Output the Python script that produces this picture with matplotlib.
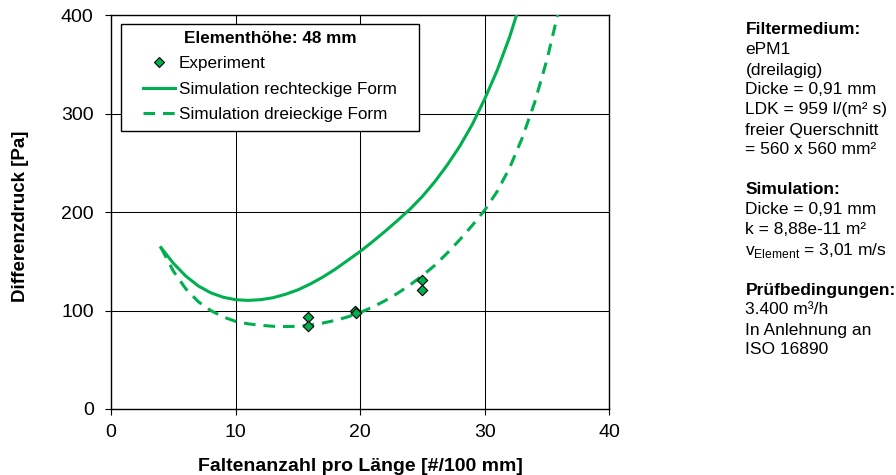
import matplotlib.pyplot as plt
from matplotlib.lines import Line2D
from matplotlib.patches import Rectangle

plt.rcParams['font.family'] = ['Liberation Sans', 'DejaVu Sans']
plt.rcParams['mathtext.fontset'] = 'custom'
plt.rcParams['mathtext.rm'] = 'Liberation Sans'

green = '#00b050'

# experiment
exp_x = [15.8, 15.8, 19.6, 19.7, 25.0, 25.0]
exp_y = [93, 84, 100, 98, 131, 121]

# simulation, rectangular fold
rect_x = [4, 5, 6, 7, 8, 9, 10, 11, 12, 13, 14, 15, 16, 17, 18, 19, 20, 21,
          22, 23, 24, 25, 26, 27, 28, 29, 30, 31, 32, 33]
rect_y = [164, 148, 135, 125, 118, 113.5, 111, 110.3, 111, 113, 116.5, 121,
          127, 134, 142, 151, 160, 170, 180.5, 191.5, 203, 216, 231, 248, 267,
          289, 315, 344, 378, 418]

# simulation, triangular fold
tri_x = [4, 5, 6, 7, 8, 9, 10, 11, 12, 13, 14, 15, 16, 17, 18, 19, 20, 21,
         22, 23, 24, 25, 26, 27, 28, 29, 30, 31, 32, 33, 34, 35, 36]
tri_y = [164, 140, 122, 109, 100, 93.5, 89, 86.5, 85, 84, 83.7, 84, 85.3,
         87.3, 90, 93.5, 98, 103.5, 110, 117.5, 126, 135.5, 146, 158.5, 172,
         186.5, 202, 221, 245, 275, 311, 355, 408]

info_lines = [
    ('Filtermedium:', True),
    ('ePM1', False),
    ('(dreilagig)', False),
    ('Dicke = 0,91 mm', False),
    ('LDK = 959 l/(m² s)', False),
    ('freier Querschnitt', False),
    ('= 560 x 560 mm²', False),
    ('', False),
    ('Simulation:', True),
    ('Dicke = 0,91 mm', False),
    ('k = 8,88e-11 m²', False),
    (r'v$_\mathregular{Element}$ = 3,01 m/s', False),
    ('', False),
    ('Prüfbedingungen:', True),
    ('3.400 m³/h', False),
    ('In Anlehnung an', False),
    ('ISO 16890', False),
]

fig = plt.figure(figsize=(8.96, 4.75), dpi=100)
ax = fig.add_axes([0.124, 0.139, 0.556, 0.829])

ax.plot(rect_x, rect_y, color=green, lw=2.2, zorder=3)
ax.plot(tri_x, tri_y, color=green, lw=2.2, dashes=(3.8, 2.6), zorder=3)
ax.scatter(exp_x, exp_y, marker='D', s=28, color=green, edgecolor='black',
           linewidth=0.8, zorder=4)

ax.set_xlim(0, 40)
ax.set_ylim(0, 400)
ax.set_xticks([0, 10, 20, 30, 40])
ax.set_yticks([0, 100, 200, 300, 400])
ax.grid(True, color='black', lw=0.75)
ax.tick_params(direction='out', length=4.5, labelsize=14, color='black')
ax.tick_params(axis='x', pad=6.5)
ax.tick_params(axis='y', pad=8)
for s in ax.spines.values():
    s.set_color('black')
    s.set_linewidth(1.0)

ax.set_xlabel('Faltenanzahl pro Länge [#/100 mm]', fontsize=14, fontweight='bold',
              va='baseline')
ax.xaxis.set_label_coords(0.5, -0.1566)
ax.set_ylabel('Differenzdruck [Pa]', fontsize=13.5, fontweight='bold',
              va='baseline')
ax.yaxis.set_label_coords(-0.1727, 0.49)

# legend frame
ax.add_patch(Rectangle((0.0201, 0.7056), 0.5984, 0.2716, transform=ax.transAxes,
                       facecolor='white', edgecolor='black', lw=1.0,
                       zorder=4.9, clip_on=False))

handles = [
    Line2D([], [], ls='none', marker='D', markersize=5.3, markerfacecolor=green,
           markeredgecolor='black', markeredgewidth=0.8),
    Line2D([], [], color=green, lw=2.2),
    Line2D([], [], color=green, lw=2.2, dashes=(3.8, 2.6)),
]
labels = ['Experiment', 'Simulation rechteckige Form', 'Simulation dreieckige Form']
leg = ax.legend(handles, labels, loc='upper left', bbox_to_anchor=(0.0546, 0.974),
                title='Elementhöhe: 48 mm', fontsize=12.3, title_fontsize=12.3,
                frameon=False, handlelength=1.87, handletextpad=0.2,
                labelspacing=0.62, borderpad=0.3, borderaxespad=0)
leg.get_title().set_fontweight('bold')
leg.set_zorder(5)

y0 = 1 - 34.5 / 475
dy = 20.0 / 475
for i, (txt, bold) in enumerate(info_lines):
    if txt:
        fig.text(0.832, y0 - i * dy, txt, fontsize=12.5,
                 fontweight='bold' if bold else 'normal', va='baseline')

fig.savefig('out.png', dpi=100)
